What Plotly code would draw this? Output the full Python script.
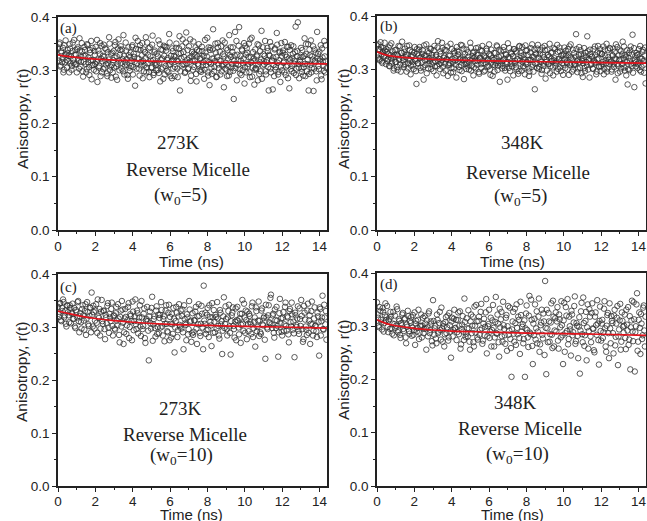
import numpy as np
import plotly.graph_objects as go

# ---------------- data (anisotropy in thousandths) -------------
# each panel: two interleaved sample sets (even / odd time channels)
r_a = [
341,318,352,309,333,322,296,347,315,330,
305,338,327,349,313,301,336,320,357,311,
329,296,343,318,360,307,325,335,288,316,
338,312,302,347,324,291,333,355,309,319,
301,329,344,316,278,337,308,351,322,296,
327,348,305,318,339,289,313,362,300,331,
310,296,336,324,353,307,282,341,318,329,
345,303,321,366,292,315,337,310,284,328,
299,333,318,347,306,325,271,340,313,355,
322,290,338,309,351,317,298,334,362,305,
313,341,287,326,304,348,319,295,337,310,
331,300,356,314,279,339,322,305,346,292,
308,343,319,296,368,311,327,285,336,320,
289,325,350,303,317,341,262,332,309,358,
334,311,297,371,320,302,345,316,280,327,
318,354,306,329,293,338,312,349,299,323,
301,336,315,284,357,310,326,296,343,272,
342,305,322,377,298,317,333,288,351,311,
319,292,345,309,330,268,352,314,301,338,
307,366,297,325,312,343,246,328,304,355,
329,310,381,294,318,339,300,322,275,346,
296,333,312,350,287,324,361,305,317,273,
339,302,326,281,347,315,298,374,309,330,
311,355,292,319,336,262,327,303,345,318,
324,289,341,306,370,314,297,333,278,351,
300,337,316,353,291,325,309,344,266,320,
347,308,331,295,318,382,303,336,312,285,
316,342,297,325,306,360,289,330,311,349,
293,328,356,304,320,261,339,315,298,372,
331,302,318,347,283,324,309,355,296,316]
r_a2 = [
324,349,307,336,315,342,301,328,356,319,
332,317,296,341,326,308,352,314,329,338,
311,340,322,303,337,316,351,298,327,344,
327,296,349,315,306,338,319,283,342,310,
336,312,298,357,320,305,331,289,346,317,
302,325,341,311,294,334,320,350,307,286,
333,319,305,347,288,326,312,358,300,338,
314,339,298,327,309,352,321,291,343,305,
325,308,344,292,331,316,361,303,322,339,
303,347,315,328,285,339,310,323,296,352,
329,297,343,318,306,365,291,334,314,300,
311,326,295,349,320,302,338,284,327,344,
337,299,323,310,352,289,316,341,303,327,
306,342,318,287,331,364,298,322,345,311,
325,295,352,313,338,304,323,358,290,334,
301,331,317,343,279,326,309,336,321,297,
344,309,327,301,333,318,361,290,315,338,
312,293,339,322,306,350,287,325,343,304,
335,317,298,356,311,326,303,341,289,322,
290,328,343,305,334,299,318,372,312,281,
318,346,302,327,291,337,313,351,306,329,
341,307,325,296,358,315,288,334,322,301,
304,328,349,311,293,336,320,284,343,317,
327,298,315,342,306,329,353,296,318,264,
310,339,301,325,348,292,319,335,307,327,
333,314,296,329,307,344,285,322,338,302,
298,323,345,312,334,291,326,390,305,319,
325,303,338,290,327,312,349,298,320,262,
339,310,296,326,345,303,318,333,281,322,
308,335,321,290,341,316,299,326,347,304]

r_b = [
345,322,338,317,351,329,312,340,326,335,
310,333,319,341,306,327,349,315,324,302,
336,314,328,299,344,320,309,331,352,317,
305,339,323,296,328,312,345,318,307,333,
327,301,342,316,273,330,311,337,322,298,
313,336,281,325,308,347,319,302,331,316,
338,310,322,297,344,315,327,306,353,320,
301,329,317,340,293,325,311,336,319,288,
326,312,348,303,320,295,334,317,309,342,
315,333,299,321,308,345,318,282,329,311,
337,306,324,313,350,298,319,331,304,323,
302,328,316,341,292,322,310,335,317,296,
324,311,339,305,319,347,300,326,313,288,
318,296,331,312,343,307,323,277,334,315,
307,336,320,298,327,314,349,303,321,310,
329,313,289,338,316,304,332,319,297,344,
311,325,342,306,320,291,335,314,327,302,
296,332,318,347,309,323,263,330,312,339,
322,305,336,314,299,328,311,344,283,318,
337,310,324,293,331,316,304,340,321,307,
315,346,301,320,334,297,317,328,309,341,
303,326,312,338,290,324,347,311,319,300,
331,309,366,316,302,327,314,336,293,320,
312,340,297,323,308,334,318,285,329,311,
324,301,317,343,313,296,332,320,305,338,
306,329,314,291,337,318,348,302,323,310,
339,315,300,326,311,333,281,319,342,307,
318,296,334,310,352,321,304,327,289,336,
301,331,316,343,306,365,312,267,325,314,
327,310,338,299,321,305,333,316,294,341]
r_b2 = [
328,347,319,336,342,315,333,324,350,321,
338,316,329,307,345,321,311,334,298,327,
314,337,305,326,318,343,296,331,322,309,
333,310,327,344,302,319,336,291,325,314,
308,331,319,297,338,312,326,342,303,323,
329,304,345,317,326,293,334,311,321,339,
301,327,313,336,306,324,289,341,316,310,
334,312,350,305,322,337,298,319,343,308,
309,326,294,338,314,302,331,321,285,335,
328,305,319,346,297,324,339,310,318,301,
312,332,300,318,341,307,325,289,333,316,
340,309,327,295,321,336,303,344,312,326,
298,322,335,317,306,329,290,337,321,309,
331,308,320,345,299,316,337,311,326,302,
317,342,303,329,310,281,323,340,297,332,
306,325,338,312,334,300,319,292,343,317,
331,298,314,327,303,345,310,336,318,288,
318,340,305,324,296,337,311,328,303,346,
301,329,317,292,341,307,323,336,314,298,
327,311,348,306,320,332,289,317,338,312,
296,333,319,341,304,326,312,290,329,318,
335,314,300,327,343,309,322,296,337,308,
311,324,338,295,319,342,303,329,316,286,
326,303,331,314,362,300,320,337,309,324,
302,338,313,327,291,319,344,306,331,297,
329,310,343,301,325,312,296,336,318,340,
313,296,327,339,305,321,347,310,293,326,
337,319,302,328,311,343,298,324,315,272,
322,299,336,311,328,294,340,318,306,331,
303,328,315,344,296,320,337,309,326,274]

r_c = [
338,319,345,311,330,347,322,306,341,328,
309,336,327,344,315,301,332,318,349,290,
326,297,341,312,330,285,347,305,321,336,
365,301,328,312,343,289,320,334,297,351,
306,331,277,318,340,299,325,311,346,284,
322,295,338,303,316,271,331,349,308,290,
334,287,313,345,300,321,275,329,311,352,
296,326,310,341,283,318,302,335,270,315,
311,237,329,297,357,305,320,282,339,300,
288,323,347,301,315,273,331,306,290,342,
319,280,305,336,252,311,327,294,343,301,
297,333,258,315,304,324,286,349,310,272,
326,291,312,338,268,305,321,283,340,299,
378,306,287,323,295,341,310,264,318,332,
290,319,347,302,278,327,311,293,356,306,
315,284,330,301,248,322,337,296,310,275,
338,299,316,270,325,306,344,289,313,329,
292,321,305,339,281,310,263,330,300,348,
312,287,335,303,320,240,318,296,341,307,
361,298,325,280,313,338,302,290,353,316,
284,328,305,346,293,318,271,334,301,324,
310,243,322,300,339,287,315,351,296,277,
327,301,285,344,312,268,330,305,293,337,
303,281,320,246,334,311,359,295,318,330]
r_c2 = [
325,344,313,336,352,318,331,301,340,322,
341,307,325,316,336,298,329,347,311,320,
309,334,322,295,343,316,328,302,337,290,
323,340,297,331,308,352,317,284,329,311,
330,296,323,307,345,289,318,334,302,321,
297,326,312,343,285,319,301,333,268,316,
319,303,338,279,324,311,348,294,320,305,
331,288,318,301,349,296,325,279,312,338,
293,320,307,336,274,315,298,331,287,323,
317,299,332,284,320,306,341,292,327,275,
306,325,287,316,299,338,281,320,304,331,
321,290,341,307,275,318,296,333,312,288,
285,313,329,297,320,343,289,306,325,258,
312,327,294,336,281,319,303,345,289,310,
323,297,316,284,332,305,249,320,298,339,
296,318,342,289,311,327,302,280,335,313,
312,286,325,304,351,293,318,331,277,306,
325,309,287,346,298,318,337,292,312,283,
290,331,305,317,276,342,299,322,309,355,
305,322,289,333,298,312,244,326,307,291,
317,293,338,302,320,286,330,309,346,295,
288,327,304,316,293,335,302,321,272,340,
314,295,331,289,322,306,348,284,316,302,
292,327,309,337,284,318,296,342,305,276]

r_d = [
345,316,298,329,307,334,290,321,311,338,
289,314,327,296,305,283,320,301,332,292,
310,278,302,325,291,315,268,299,319,286,
306,282,321,293,265,310,297,331,288,301,
279,316,295,305,256,298,324,287,309,272,
349,284,301,268,312,290,327,275,296,305,
262,308,287,320,279,302,241,316,293,331,
297,274,312,285,328,266,303,290,352,280,
315,281,296,256,322,301,270,337,288,309,
275,318,293,342,267,305,283,326,249,300,
331,290,262,311,297,279,355,286,305,243,
298,327,271,302,283,316,254,338,292,276,
205,309,286,333,265,297,318,278,346,290,
304,276,205,324,293,261,357,285,312,229,
283,341,296,268,318,252,302,331,277,309,
385,210,296,325,271,307,284,348,262,315,
290,336,258,313,279,302,229,344,287,320,
351,276,300,245,322,289,338,267,306,282,
299,211,328,285,354,263,310,236,341,291,
318,270,343,295,251,326,284,305,228,337,
273,312,289,347,262,301,325,240,296,319,
306,249,331,280,316,227,294,342,271,310,
288,322,257,303,336,275,219,311,290,345,
215,300,362,271,326,248,305,283,339,262]
r_d2 = [
322,301,336,312,294,327,306,343,317,299,
311,295,318,286,327,304,297,337,289,313,
284,306,322,295,313,279,303,329,291,310,
317,298,284,326,305,290,312,276,300,322,
301,287,319,296,311,281,328,293,305,264,
310,296,277,322,287,306,293,335,271,300,
285,317,298,273,325,290,309,281,314,296,
312,289,326,301,258,295,319,274,308,286,
296,330,271,309,287,318,262,301,340,279,
310,284,327,296,273,314,299,351,281,304,
278,316,293,340,262,308,287,322,270,333,
313,281,346,295,267,321,300,284,335,259,
294,327,271,306,341,285,312,248,321,299,
268,311,296,339,279,320,288,350,263,305,
314,275,328,290,352,266,307,284,324,246,
297,331,270,309,285,343,259,318,292,326,
309,273,322,298,347,283,311,252,336,291,
266,318,294,329,283,307,356,272,301,240,
317,292,344,270,306,283,327,298,258,332,
281,325,296,255,318,302,349,274,310,291,
305,278,333,296,252,321,287,343,268,310,
287,320,264,305,338,281,311,256,326,299,
301,278,331,292,265,319,298,348,272,313,
289,341,254,312,297,323,276,335,292,318]

# fitted curves
fit_t = [0, 0.5, 1, 2, 3, 4, 6, 8, 10, 12, 14.4]
fit_a = [0.329, 0.326, 0.324, 0.321, 0.319, 0.318, 0.316, 0.315, 0.314, 0.313, 0.312]
fit_b = [0.333, 0.327, 0.324, 0.321, 0.319, 0.318, 0.316, 0.315, 0.314, 0.313, 0.312]
fit_c = [0.330, 0.326, 0.322, 0.316, 0.312, 0.309, 0.305, 0.303, 0.301, 0.300, 0.298]
fit_d = [0.312, 0.305, 0.301, 0.296, 0.293, 0.291, 0.289, 0.287, 0.286, 0.285, 0.283]

panel_labels = ["(a)", "(b)", "(c)", "(d)"]
temps = ["273K", "348K", "273K", "348K"]
w0 = ["5", "5", "10", "10"]
x_ticks = [0, 2, 4, 6, 8, 10, 12, 14]
y_ticks = [0, 0.1, 0.2, 0.3, 0.4]

T_END = 14.4

W, H = 647, 521
def dx(a, b): return [a / W, b / W]
def dy(top, bot): return [1 - bot / H, 1 - top / H]

boxes = [(58, 327, 17, 230), (377, 646, 16, 230), (58, 327, 274, 486), (377, 646, 273, 486)]

fig = go.Figure()
series = [(r_a, r_a2), (r_b, r_b2), (r_c, r_c2), (r_d, r_d2)]
fits = [fit_a, fit_b, fit_c, fit_d]
for i, ((r1, r2), fv) in enumerate(zip(series, fits)):
    rv = [v for pair in zip(r1, r2) for v in pair]
    t = np.linspace(0, T_END, len(rv), endpoint=False)
    ax = "" if i == 0 else str(i + 1)
    fig.add_trace(go.Scatter(
        x=t, y=np.array(rv) / 1000.0, mode="markers",
        marker=dict(symbol="circle-open", size=5.5, color="rgba(50,50,50,0.8)",
                    line=dict(width=1)),
        xaxis="x" + ax, yaxis="y" + ax, showlegend=False))
    fig.add_trace(go.Scatter(
        x=fit_t, y=fv, mode="lines", line=dict(color="#e3121b", width=1.7, shape="spline"),
        xaxis="x" + ax, yaxis="y" + ax, showlegend=False))

tickfont = dict(family="Liberation Sans, Arial", size=13.5, color="#222")
titlefont = dict(family="Liberation Sans, Arial", size=15.5, color="#222")
titlefont_b = dict(family="Liberation Sans, Arial", size=15, color="#222")
layout = dict(width=W, height=H, margin=dict(l=0, r=0, t=0, b=0),
              paper_bgcolor="white", plot_bgcolor="white", showlegend=False)

for i, (x0, x1, y0, y1) in enumerate(boxes):
    ax = "" if i == 0 else str(i + 1)
    layout["xaxis" + ax] = dict(
        domain=dx(x0, x1), range=[0, T_END], anchor="y" + ax, automargin=False,
        tickvals=x_ticks, ticks="outside", ticklen=4, tickwidth=1.3,
        ticklabelstandoff=-1 if i < 2 else -2,
        minor=dict(tickvals=[1, 3, 5, 7, 9, 11, 13], ticks="outside", ticklen=2.5, tickwidth=1.2, tickcolor="#222"),
        tickcolor="#222", showline=True, linecolor="#222", linewidth=1.6, mirror=True,
        showgrid=False, zeroline=False, tickfont=tickfont)
    layout["yaxis" + ax] = dict(
        domain=dy(y0, y1), range=[0, 0.4], anchor="x" + ax, automargin=False,
        tickvals=y_ticks, tickformat=".1f", ticks="outside", ticklen=4, tickwidth=1.3,
        minor=dict(tickvals=[0.05, 0.15, 0.25, 0.35], ticks="outside", ticklen=2.5, tickwidth=1.2, tickcolor="#222"),
        tickcolor="#222", showline=True, linecolor="#222", linewidth=1.6, mirror=True,
        showgrid=False, zeroline=False, tickfont=tickfont)

fig.update_layout(**layout)

# axis titles (placed as annotations so they sit exactly as in the reference)
xt_pos = [(191, 261), (512, 261), (191, 514), (512, 514)]
yt_pos = [(22, 119), (343, 119), (22, 372), (343, 370)]
for i in range(4):
    px, py = xt_pos[i]
    fig.add_annotation(x=px / W, y=1 - py / H, xref="paper", yref="paper", text="Time (ns)",
                       showarrow=False, font=titlefont if i < 2 else titlefont_b,
                       xanchor="center", yanchor="middle")
    px, py = yt_pos[i]
    fig.add_annotation(x=px / W, y=1 - py / H, xref="paper", yref="paper", text="Anisotropy, r(t)",
                       showarrow=False, font=titlefont, textangle=-90, xanchor="center", yanchor="middle")

serif = dict(family="Liberation Serif, Times New Roman", size=19, color="#222")
labfont = dict(family="Liberation Serif, Times New Roman", size=15, color="#222")
text_pos = [
    [(178, 142), (188, 170), (180, 196)],
    [(522, 142), (528, 172), (520, 197)],
    [(180, 408), (185, 434), (182, 456)],
    [(515, 402), (520, 428), (517, 455)],
]
label_pos = [(68, 28), (389, 27), (68, 287), (389, 284)]
for i in range(4):
    lines = [temps[i], "Reverse Micelle", "(w<sub>0</sub>=" + w0[i] + ")"]
    for txt, (px, py) in zip(lines, text_pos[i]):
        fig.add_annotation(x=px / W, y=1 - py / H, xref="paper", yref="paper",
                           text=txt, showarrow=False, font=serif,
                           xanchor="center", yanchor="middle")
    lx, ly = label_pos[i]
    fig.add_annotation(x=lx / W, y=1 - ly / H, xref="paper", yref="paper",
                       text=panel_labels[i], showarrow=False, font=labfont,
                       xanchor="center", yanchor="middle")

fig.write_html("out.html", config={"displayModeBar": False},
               post_script="document.body.style.margin='0';document.body.style.overflow='hidden';")
